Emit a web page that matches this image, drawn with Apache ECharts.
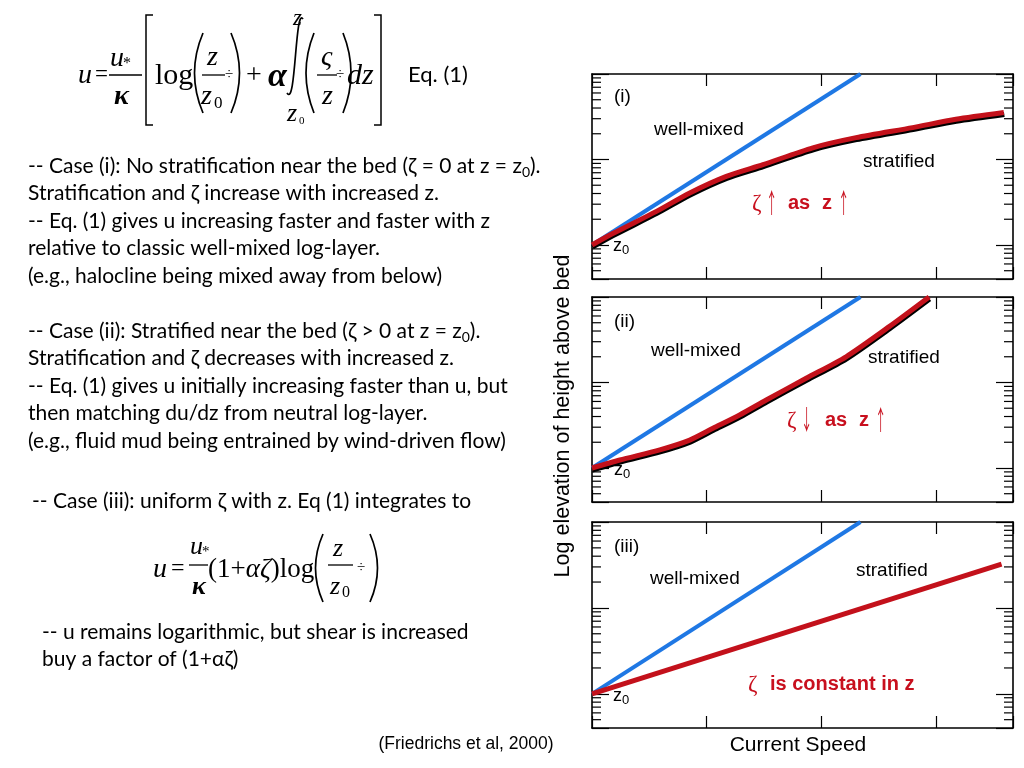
<!DOCTYPE html>
<html>
<head>
<meta charset="utf-8">
<script src="https://cdn.jsdelivr.net/npm/echarts@6/dist/echarts.min.js"></script>
<style>html,body{margin:0;padding:0;background:#fff;}#c{width:1024px;height:768px;}</style>
</head>
<body>
<div id="c"></div>
<script>
// ---------------- data ----------------
const wellMixedX = [0, 2.34];
const wellMixedZ = [1, 100];
const stratIX = [0, 0.185, 0.562, 0.852, 1.171, 1.49, 1.925, 2.302, 2.795, 3.172, 3.59];
const stratIZ = [1, 1.37, 2.47, 4.06, 6.35, 8.7, 13.7, 18.0, 23.6, 29.5, 35.4];
const stratIIX = [0, 0.243, 0.591, 0.852, 1.055, 1.287, 1.519, 1.867, 2.215, 2.591, 2.939];
const stratIIZ = [1, 1.24, 1.63, 2.12, 2.91, 4.17, 6.24, 11.2, 20.0, 45, 100];
const stratIIIX = [0, 3.57];
const stratIIIZ = [1, 32.3];
const minorZ = [0.5, 0.6, 0.7, 0.8, 0.9, 2, 3, 4, 5, 6, 7, 8, 9, 20, 30, 40, 50, 60, 70, 80, 90];
const panelLabels = ['(i)', '(ii)', '(iii)'];
const seriesNames = ['well-mixed', 'stratified'];
const noteI = ['ζ', '↑', 'as', 'z', '↑'];
const noteII = ['ζ', '↓', 'as', 'z', '↑'];
const noteIII = ['ζ', 'is constant in z'];
const caseOne = [
  '-- Case (i): No stratification near the bed (ζ = 0 at z = z{s|0}).',
  'Stratification and ζ increase with increased z.',
  '-- Eq. (1) gives u increasing faster and faster with z',
  'relative to classic well-mixed log-layer.',
  '(e.g., halocline being mixed away from below)'
];
const caseTwo = [
  '-- Case (ii): Stratified near the bed (ζ > 0 at z = z{s|0}).',
  'Stratification and ζ decreases with increased z.',
  '-- Eq. (1) gives u initially increasing faster than u, but',
  'then matching du/dz from neutral log-layer.',
  '(e.g., fluid mud being entrained by wind-driven flow)'
];
const caseThree = '-- Case (iii): uniform ζ with z. Eq (1) integrates to';
const caseThreeNote = [
  '-- u remains logarithmic, but shear is increased',
  'buy a factor of (1+αζ)'
];
const xLabel = 'Current Speed';
const yLabel = 'Log elevation of height above bed';
const citation = '(Friedrichs et al, 2000)';

// ---------------- chart ----------------
const chart = echarts.init(document.getElementById('c'));
const BLUE = '#1f78e4', RED = '#c3111b', TXTRED = '#c8101e';
const SANS = '"Liberation Sans", Arial, sans-serif';
const BODY = 'Lato, "Noto Sans", sans-serif';
const SERIF = '"Liberation Serif", "Times New Roman", serif';

const grids = [
  {left: 592, top: 74, width: 421, height: 205},
  {left: 592, top: 297, width: 421, height: 205},
  {left: 592, top: 522, width: 421, height: 206}
];
const axLine = {show: true, onZero: false, lineStyle: {color: '#000', width: 1.6}};
const xAxes = [], yAxes = [];
grids.forEach((g, i) => {
  ['bottom', 'top'].forEach(pos => xAxes.push({
    type: 'value', gridIndex: i, position: pos, min: 0, max: 3.67, interval: 1,
    axisLine: axLine, axisTick: {show: true, inside: true, length: 12, lineStyle: {color: '#000', width: 1.2}},
    axisLabel: {show: false}, splitLine: {show: false}
  }));
  ['left', 'right'].forEach(pos => yAxes.push({
    type: 'log', logBase: 10, gridIndex: i, position: pos, min: 0.4, max: 100,
    axisLine: axLine, axisTick: {show: true, inside: true, length: 17, lineStyle: {color: '#000', width: 1.2}},
    axisLabel: {show: false}, splitLine: {show: false}, minorTick: {show: false}
  }));
});

const zip = (xs, zs) => xs.map((x, k) => [x, zs[k]]);
const series = [];
const reds = [zip(stratIX, stratIZ), zip(stratIIX, stratIIZ), zip(stratIIIX, stratIIIZ)];
grids.forEach((g, i) => {
  series.push({
    type: 'custom', xAxisIndex: 2 * i, yAxisIndex: 2 * i, silent: true, z: 1,
    data: minorZ.map(v => [0, v]),
    renderItem(params, api) {
      const p = api.coord([0, api.value(1)]);
      const cs = params.coordSys;
      const st = {stroke: '#000', lineWidth: 1.2};
      return {type: 'group', children: [
        {type: 'line', shape: {x1: cs.x, y1: p[1], x2: cs.x + 9, y2: p[1]}, style: st},
        {type: 'line', shape: {x1: cs.x + cs.width, y1: p[1], x2: cs.x + cs.width - 9, y2: p[1]}, style: st}
      ]};
    }
  });
  series.push({
    type: 'line', name: seriesNames[0], xAxisIndex: 2 * i, yAxisIndex: 2 * i, showSymbol: false, z: 3,
    data: zip(wellMixedX, wellMixedZ),
    lineStyle: {color: BLUE, width: 4}
  });
  const ls = {color: RED, width: 5};
  if (i < 2) Object.assign(ls, {shadowColor: '#000', shadowBlur: 0, shadowOffsetY: 2, shadowOffsetX: 0.5});
  series.push({
    type: 'line', name: seriesNames[1], xAxisIndex: 2 * i, yAxisIndex: 2 * i, showSymbol: false, z: 4,
    smooth: i < 2 ? 0.25 : false,
    data: reds[i], lineStyle: ls
  });
});

// ---------- graphic helpers ----------
const G = [];
function T(x, y, text, o) {
  o = o || {};
  G.push({type: 'text', x, y, rotation: o.rotation || 0, scaleX: o.scaleX || 1, z: 10, style: Object.assign({
    text, fill: '#000', fontSize: 18, fontFamily: SANS, align: 'left', verticalAlign: 'middle'
  }, o.style || {})});
}
function L(x1, y1, x2, y2, w) {
  G.push({type: 'line', z: 10, shape: {x1, y1, x2, y2}, style: {stroke: '#000', lineWidth: w || 1.3}});
}
function P(pts, w) {
  G.push({type: 'polyline', z: 10, shape: {points: pts}, style: {stroke: '#000', lineWidth: w || 1.5, fill: null}});
}
function Q(x1, y1, cx, cy, x2, y2, w) {
  G.push({type: 'bezierCurve', z: 10, shape: {x1, y1, cpx1: cx, cpy1: cy, x2, y2}, style: {stroke: '#000', lineWidth: w || 1.7, fill: null}});
}
function C(x1, y1, c1x, c1y, c2x, c2y, x2, y2, w) {
  G.push({type: 'bezierCurve', z: 10, shape: {x1, y1, cpx1: c1x, cpy1: c1y, cpx2: c2x, cpy2: c2y, x2, y2}, style: {stroke: '#000', lineWidth: w || 1.7, fill: null}});
}
const mathI = (sz, extra) => ({style: Object.assign({fontFamily: SERIF, fontStyle: 'italic', fontSize: sz}, extra || {})});
const mathR = (sz, extra) => ({style: Object.assign({fontFamily: SERIF, fontSize: sz}, extra || {})});

// ---------- equation (1) ----------
T(78, 76, 'u', mathI(28));
T(95, 75, '=', mathR(23));
T(110, 59, 'u', mathI(28));
T(123, 64, '*', mathR(16));
L(109, 75, 142, 75);
T(114, 97, 'κ', mathI(28, {fontWeight: 'bold'}));
P([[153, 15], [146, 15], [146, 125], [153, 125]]);
T(155, 76, 'log', mathR(30));
Q(203, 33, 186, 73, 203, 113);
T(207, 58, 'z', mathI(28));
L(202, 75, 225, 75);
T(201, 97, 'z', mathI(28));
T(214, 104, '0', mathR(17));
T(225, 75, '÷', mathR(15));
Q(231, 33, 248, 73, 231, 113);
T(246, 76, '+', mathR(28));
T(268, 77, 'α', mathI(34, {fontWeight: 'bold'}));
C(303, 19, 295, 6, 296, 108, 287, 93);
T(293, 19, 'z', mathI(23));
T(287, 114, 'z', mathI(26));
T(299, 121, '0', mathR(11));
Q(314, 33, 298, 73, 314, 113);
T(321, 58, 'ς', mathI(28));
L(317, 75, 337, 75);
T(322, 97, 'z', mathI(28));
T(336, 75, '÷', mathR(15));
Q(343, 33, 359, 73, 343, 113);
T(347, 76, 'dz', mathI(30));
P([[374, 15], [381, 15], [381, 125], [374, 125]]);
T(408, 75, 'Eq. (1)', {style: {fontFamily: BODY, fontSize: 22}});

// ---------- body text ----------
const bodyStyle = {fontFamily: BODY, fontSize: 21, rich: {s: {fontFamily: BODY, fontSize: 14, verticalAlign: 'bottom', lineHeight: 15}}, lineHeight: 27};
caseOne.forEach((t, k) => T(28, 166 + k * 27.5, t, {style: bodyStyle}));
caseTwo.forEach((t, k) => T(28, 331 + k * 27.5, t, {style: bodyStyle}));
T(32, 501, caseThree, {style: bodyStyle});
caseThreeNote.forEach((t, k) => T(42, 632 + k * 27.5, t, {style: bodyStyle}));

// ---------- equation (2) ----------
T(153, 570, 'u', mathI(28));
T(171, 569, '=', mathR(24));
T(190, 547, 'u', mathI(26));
T(202, 552, '*', mathR(15));
L(189, 565, 208, 565);
T(192, 587, 'κ', mathI(26, {fontWeight: 'bold'}));
T(208, 570, '{r|(1+}{i|αζ}{r|)log}', {style: {fontFamily: SERIF, fontSize: 27,
  rich: {r: {fontFamily: SERIF, fontSize: 27}, i: {fontFamily: SERIF, fontStyle: 'italic', fontSize: 27}}}});
Q(323, 534, 308, 568, 323, 602);
T(333, 549, 'z', mathI(26));
L(328, 565, 353, 565);
T(330, 587, 'z', mathI(26));
T(342, 593, '0', mathR(16));
T(357, 568, '÷', mathR(15));
Q(370, 534, 385, 568, 370, 602);

// ---------- panel annotations ----------
const lab = (t, x, y) => T(x, y, t, {style: {fontSize: 19}});
lab(panelLabels[0], 614, 97); lab(panelLabels[1], 614, 322); lab(panelLabels[2], 614, 547);
lab(seriesNames[0], 654, 130); lab(seriesNames[1], 863, 162);
lab(seriesNames[0], 651, 351); lab(seriesNames[1], 868, 358);
lab(seriesNames[0], 650, 579); lab(seriesNames[1], 856, 571);
const zlab = (x, y) => T(x, y, '{z|z}{s|0}', {style: {fontSize: 18, lineHeight: 22,
  rich: {z: {fontSize: 18, fontFamily: SANS}, s: {fontSize: 13, fontFamily: SANS, verticalAlign: 'bottom', lineHeight: 12}}}});
zlab(613, 246); zlab(614, 470); zlab(613, 696);
const zeta = (x, y, t) => T(x, y, t, {style: {fontFamily: SERIF, fontSize: 23, fill: TXTRED}});
const arrow = (x, y, t) => T(x, y, t, {scaleX: 0.42, style: {fontFamily: '"Noto Sans CJK SC", "DejaVu Sans", sans-serif', fontSize: 27, fill: TXTRED}});
const bold = (x, y, t) => T(x, y, t, {style: {fontFamily: SANS, fontWeight: 'bold', fontSize: 20, fill: TXTRED}});
zeta(752, 204, noteI[0]); arrow(766, 203, noteI[1]); bold(788, 203, noteI[2]); bold(822, 203, noteI[3]); arrow(838, 203, noteI[4]);
zeta(787, 421, noteII[0]); arrow(801, 420, noteII[1]); bold(825, 420, noteII[2]); bold(859, 420, noteII[3]); arrow(875, 420, noteII[4]);
zeta(748, 685, noteIII[0]); bold(770, 684, noteIII[1]);

// axis titles
T(798, 745, xLabel, {style: {fontSize: 21, align: 'center'}});
T(563, 416, yLabel, {rotation: Math.PI / 2, style: {fontSize: 21.5, align: 'center'}});
T(466, 744, citation, {style: {fontSize: 17.5, align: 'center'}});

chart.setOption({
  animation: false,
  backgroundColor: '#fff',
  grid: grids,
  xAxis: xAxes,
  yAxis: yAxes,
  series,
  graphic: G
});
</script>
</body>
</html>
